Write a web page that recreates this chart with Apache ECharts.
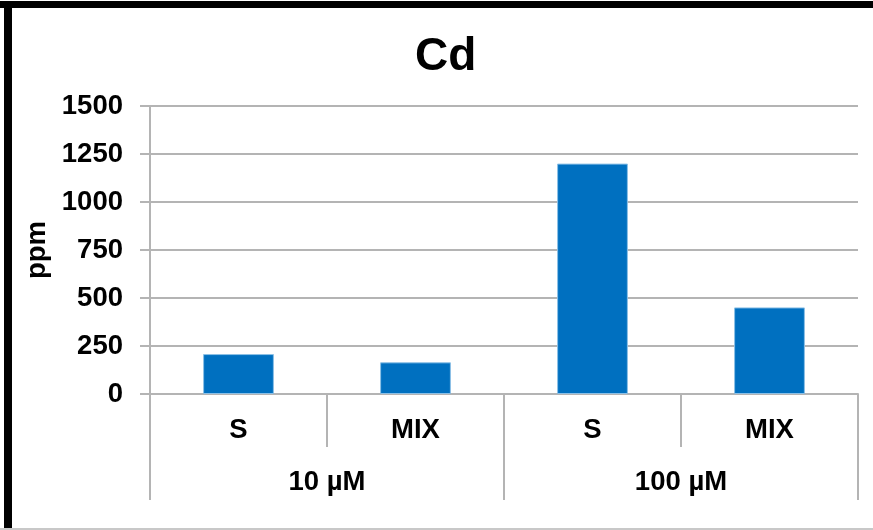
<!DOCTYPE html>
<html>
<head>
<meta charset="utf-8">
<script src="https://cdn.jsdelivr.net/npm/echarts@6/dist/echarts.min.js"></script>
<style>
  html, body { margin: 0; padding: 0; background: #fff; }
  #chart { width: 873px; height: 530px; }
</style>
</head>
<body>
<div id="chart"></div>
<script>
// Cd content (ppm) by treatment, grouped by concentration
const groups = ['10 µM', '100 µM'];
const treatments = ['S', 'MIX', 'S', 'MIX'];
const ppm = [208, 165, 1200, 451];
const yMin = 0, yMax = 1500, yStep = 250;

const FONT = "'Liberation Sans', Arial, sans-serif";
const GRID_GRAY = '#b4b4b4';

const chart = echarts.init(document.getElementById('chart'), null, { renderer: 'canvas' });

chart.setOption({
  backgroundColor: '#ffffff',
  animation: false,
  title: {
    text: 'Cd',
    left: 410,
    top: 29,
    textStyle: { fontFamily: FONT, fontWeight: 'bold', fontSize: 46, color: '#000' }
  },
  grid: { left: 150, right: 15, top: 106, bottom: 136, containLabel: false },
  xAxis: [
    {
      type: 'category',
      data: treatments,
      position: 'bottom',
      axisLine: { show: true, lineStyle: { color: GRID_GRAY, width: 2 } },
      axisTick: { show: true, interval: 0, length: 53, lineStyle: { color: GRID_GRAY, width: 2 } },
      axisLabel: { interval: 0, margin: 22, fontFamily: FONT, fontWeight: 'bold', fontSize: 27.5, color: '#000' }
    },
    {
      type: 'category',
      data: groups,
      position: 'bottom',
      offset: 0,
      axisLine: { show: false },
      axisTick: { show: true, interval: 0, length: 106, lineStyle: { color: GRID_GRAY, width: 2 } },
      axisLabel: { interval: 0, margin: 74, fontFamily: FONT, fontWeight: 'bold', fontSize: 27.5, color: '#000' }
    }
  ],
  yAxis: {
    type: 'value',
    min: yMin,
    max: yMax,
    interval: yStep,
    name: 'ppm',
    nameLocation: 'middle',
    nameRotate: 90,
    nameGap: 90,
    nameTextStyle: { fontFamily: FONT, fontWeight: 'bold', fontSize: 27.5, color: '#000' },
    axisLine: { show: true, lineStyle: { color: GRID_GRAY, width: 2 } },
    axisTick: { show: true, length: 10, lineStyle: { color: GRID_GRAY, width: 2 } },
    axisLabel: {
      margin: 27,
      formatter: (v) => String(v),
      fontFamily: FONT, fontWeight: 'bold', fontSize: 27.5, color: '#000'
    },
    splitLine: { show: true, lineStyle: { color: GRID_GRAY, width: 2 } }
  },
  series: [{
    type: 'bar',
    xAxisIndex: 0,
    data: ppm,
    barWidth: '40%',
    itemStyle: { color: '#0070c0', borderColor: '#8cc0e6', borderWidth: 1 }
  }],
  graphic: [
    // outer frame: heavy black edge on top and left, thin gray at bottom
    { type: 'rect', shape: { x: 0, y: 1, width: 873, height: 7 }, style: { fill: '#000' }, z: 100 },
    { type: 'rect', shape: { x: 4, y: 1, width: 8, height: 527 }, style: { fill: '#000' }, z: 100 },
    { type: 'rect', shape: { x: 0, y: 528, width: 873, height: 2 }, style: { fill: '#c8c8c8' }, z: 100 }
  ]
});
</script>
</body>
</html>
